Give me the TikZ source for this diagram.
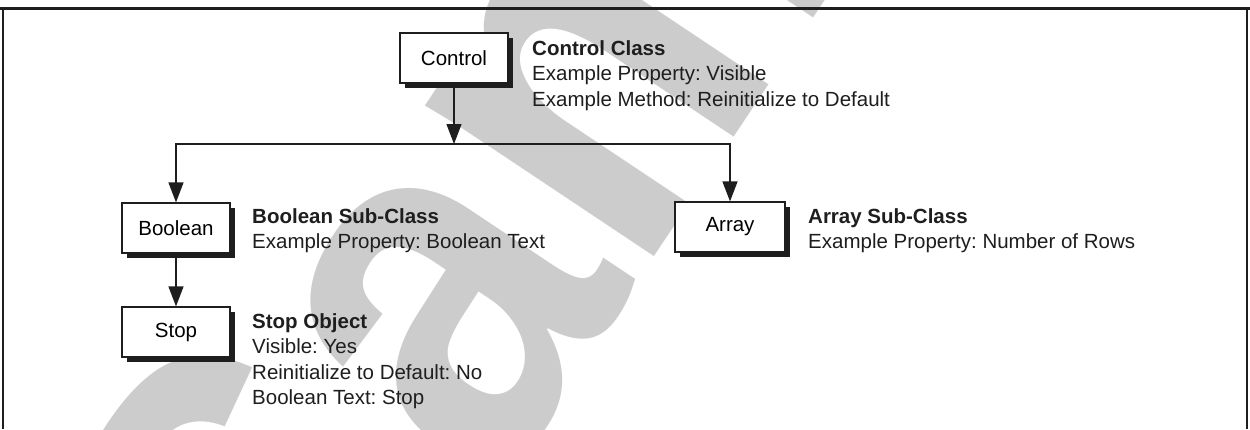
\documentclass[tikz,border=0pt]{standalone}
\usepackage{fontspec}
\setmainfont{Liberation Sans}
\usetikzlibrary{arrows.meta,shadows}
\definecolor{wm}{RGB}{204,204,204}
\definecolor{ink}{RGB}{30,30,30}
\frenchspacing
\begin{document}
\begin{tikzpicture}[x=1pt,y=-1pt,
  cbox/.style={draw=ink, line width=1.2pt, fill=white, minimum width=108pt, minimum height=50pt,
    inner sep=0pt, font=\fontsize{20.5}{25.5}\selectfont,
    drop shadow={shadow xshift=5pt, shadow yshift=-5pt, fill=ink, opacity=1}},
  desc/.style={anchor=base west, inner sep=0pt, align=left, text=ink, font=\fontsize{20.5}{25.5}\selectfont},
  conn/.style={draw=ink, line width=1.2pt, -{Triangle[length=20pt,width=15pt]}}]
\useasboundingbox (0,0) rectangle (1250,429);
\begin{scope}
\clip (0,0) rectangle (1250,429);
\node[rotate=56.3, xscale=0.89, anchor=base west, inner sep=0pt, text=wm,
  font=\fontsize{519}{519}\selectfont\bfseries] (wmark) at (323,754) {Sample};
\end{scope}
% frame
\draw[ink, line width=2pt] (3,429) -- (3,8.5) -- (1247,8.5) -- (1247,429);
\draw[ink, line width=2.8pt] (0,8.5) -- (1250,8.5);
% boxes
\node[cbox] (ctrl) at (454,58) {Control};
\node[cbox] (bool) at (176,228) {Boolean};
\node[cbox] (stop) at (176,332) {Stop};
\node[cbox, minimum width=110pt] (arr) at (730,227) {Array};
% connectors
\coordinate (j) at (454,144);
\draw[conn] (ctrl.south) -- (j);
\draw[conn] (j) -| (bool.north);
\draw[conn] (j) -| (arr.north);
\draw[conn] (bool.south) -- (stop.north);
% descriptions
\node[desc] (ctrlT) at (532,106) {\textbf{Control Class}\\Example Property: Visible\\Example Method: Reinitialize to Default};
\node[desc] (boolT) at (252,248.5) {\textbf{Boolean Sub-Class}\\Example Property: Boolean Text};
\node[desc] (arrT) at (808,248.5) {\textbf{Array Sub-Class}\\Example Property: Number of Rows};
\node[desc] (stopT) at (252,404.5) {\textbf{Stop Object}\\Visible: Yes\\Reinitialize to Default: No\\Boolean Text: Stop};
\end{tikzpicture}
\end{document}
